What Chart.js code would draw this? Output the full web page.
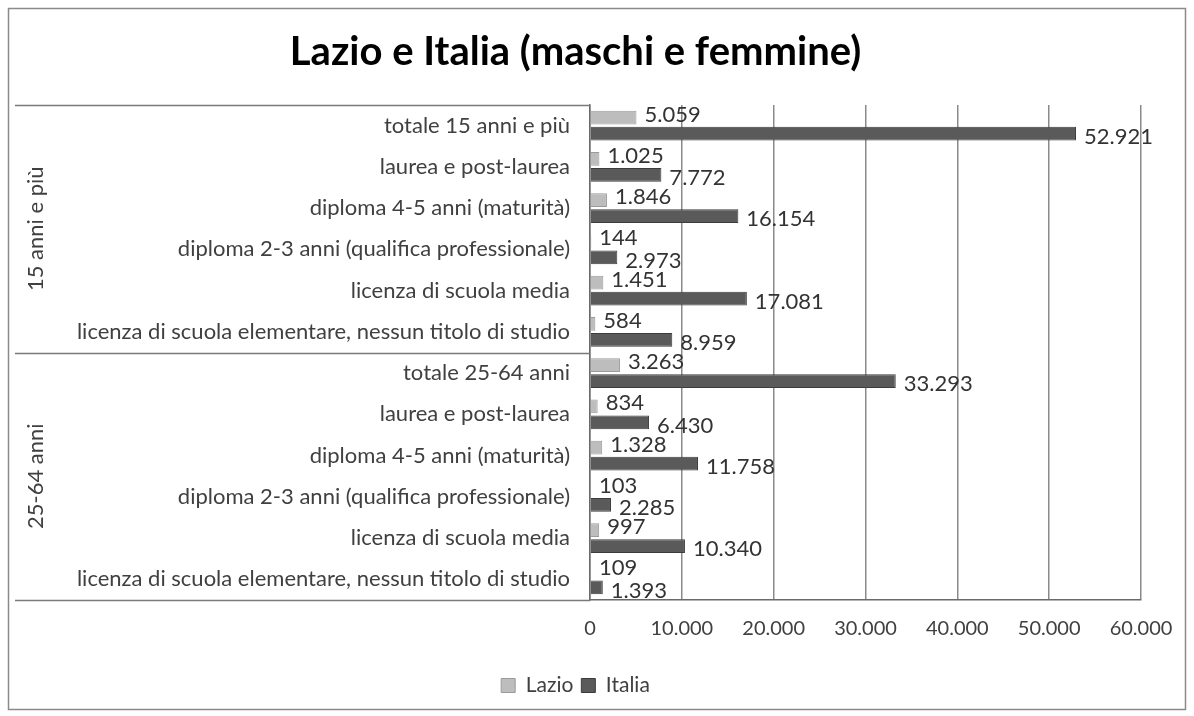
<!DOCTYPE html>
<html lang="it">
<head>
    <meta charset="UTF-8">
    <title>Lazio e Italia (maschi e femmine)</title>
    <script src="https://cdn.jsdelivr.net/npm/chart.js"></script>
    <style>
        body {
            margin: 0;
            background: #ffffff;
        }
        .chart-box {
            width: 1194px;
            height: 716px;
        }
    </style>
</head>
<body>
    <div class="chart-box">
        <canvas id="grafico" width="1194" height="716"></canvas>
    </div>
    <script>
        // dati (migliaia)
        let categorie = [
            'totale 15 anni e più',
            'laurea e post-laurea',
            'diploma 4-5 anni (maturità)',
            'diploma 2-3 anni (qualifica professionale)',
            'licenza di scuola media',
            'licenza di scuola elementare, nessun titolo di studio',
            'totale 25-64 anni',
            'laurea e post-laurea',
            'diploma 4-5 anni (maturità)',
            'diploma 2-3 anni (qualifica professionale)',
            'licenza di scuola media',
            'licenza di scuola elementare, nessun titolo di studio'
        ];
        let lazio = [5059, 1025, 1846, 144, 1451, 584, 3263, 834, 1328, 103, 997, 109];
        let italia = [52921, 7772, 16154, 2973, 17081, 8959, 33293, 6430, 11758, 2285, 10340, 1393];
        let gruppi = ['15 anni e più', '25-64 anni'];
        let gruppiFine = [5, 11];
        let tickValori = [0, 10000, 20000, 30000, 40000, 50000, 60000];

        function formatta(v) {
            return String(Math.round(v)).replace(/\B(?=(\d{3})+(?!\d))/g, '.');
        }

        const font = "Lato, 'Open Sans', sans-serif";

        // cornice, etichette di gruppo e valori sulle barre
        const decorazioni = {
            id: 'decorazioni',
            afterDraw(chart) {
                const c = chart.ctx;
                const area = chart.chartArea;
                const y = chart.scales.y;
                c.save();

                // linee dei gruppi a sinistra
                c.strokeStyle = '#7a7a7a';
                c.lineWidth = 1.5;
                let bordi = [area.top];
                for (let i = 0; i < gruppi.length; i++) {
                    let fine = gruppiFine[i];
                    let yb = fine < categorie.length - 1
                        ? (y.getPixelForValue(fine) + y.getPixelForValue(fine + 1)) / 2
                        : area.bottom;
                    bordi.push(yb);
                }
                bordi.forEach(function (yy) {
                    c.beginPath();
                    c.moveTo(15, Math.round(yy) + 0.5);
                    c.lineTo(area.left, Math.round(yy) + 0.5);
                    c.stroke();
                });

                // etichette dei gruppi, ruotate
                c.fillStyle = '#404040';
                c.font = '22px ' + font;
                c.textAlign = 'center';
                c.textBaseline = 'middle';
                for (let i = 0; i < gruppi.length; i++) {
                    let cy = (bordi[i] + bordi[i + 1]) / 2;
                    c.save();
                    c.translate(36, cy);
                    c.rotate(-Math.PI / 2);
                    c.fillText(gruppi[i], 0, 0);
                    c.restore();
                }

                // valori accanto alle barre
                c.font = '22px ' + font;
                c.textAlign = 'left';
                c.fillStyle = '#333333';
                chart.data.datasets.forEach(function (ds, di) {
                    let meta = chart.getDatasetMeta(di);
                    meta.data.forEach(function (bar, i) {
                        let off = di === 0 ? -3 : 3;
                        c.fillText(formatta(ds.data[i]), bar.x + 8, bar.y + off);
                    });
                });

                // cornice esterna
                c.strokeStyle = '#8a8a8a';
                c.lineWidth = 1.5;
                c.strokeRect(8.5, 8.5, chart.width - 17, chart.height - 15);
                c.restore();
            }
        };

        let ctx = document.getElementById('grafico').getContext('2d');
        let grafico = new Chart(ctx, {
            type: 'bar',
            data: {
                labels: categorie,
                datasets: [{
                    label: 'Lazio',
                    data: lazio,
                    backgroundColor: '#bdbdbd',
                    borderColor: '#9a9a9a',
                    borderWidth: 1,
                    categoryPercentage: 0.78,
                    barPercentage: 0.85
                }, {
                    label: 'Italia',
                    data: italia,
                    backgroundColor: '#5a5a5a',
                    borderColor: '#3c3c3c',
                    borderWidth: 1,
                    categoryPercentage: 0.78,
                    barPercentage: 0.85
                }]
            },
            options: {
                indexAxis: 'y',
                responsive: false,
                animation: false,
                layout: {
                    padding: { left: 10, right: 53, top: 10, bottom: 10 }
                },
                plugins: {
                    title: {
                        display: true,
                        text: 'Lazio e Italia (maschi e femmine)',
                        color: '#000000',
                        font: { family: font, size: 40, weight: 'bold' },
                        padding: { top: 18, bottom: 29 }
                    },
                    legend: {
                        position: 'bottom',
                        labels: {
                            color: '#404040',
                            font: { family: font, size: 21 },
                            boxWidth: 14,
                            boxHeight: 14,
                            padding: 8
                        }
                    },
                    tooltip: { enabled: false }
                },
                scales: {
                    x: {
                        min: 0,
                        max: 60000,
                        afterBuildTicks: function (scale) {
                            scale.ticks = tickValori.map(function (v) { return { value: v }; });
                        },
                        afterFit: function (scale) {
                            scale.height = 67;
                        },
                        ticks: {
                            color: '#404040',
                            font: { family: font, size: 20 },
                            padding: 17,
                            callback: function (v) { return formatta(v); }
                        },
                        grid: {
                            color: '#8a8a8a',
                            lineWidth: 1.5,
                            drawTicks: false
                        },
                        border: { color: '#6a6a6a', width: 1.5 }
                    },
                    y: {
                        afterFit: function (scale) {
                            scale.width = 580;
                        },
                        ticks: {
                            color: '#404040',
                            font: { family: font, size: 22 },
                            padding: 20,
                            autoSkip: false
                        },
                        grid: { display: false, drawTicks: false },
                        border: { color: '#6a6a6a', width: 1.5 }
                    }
                }
            },
            plugins: [decorazioni]
        });
    </script>
</body>
</html>
